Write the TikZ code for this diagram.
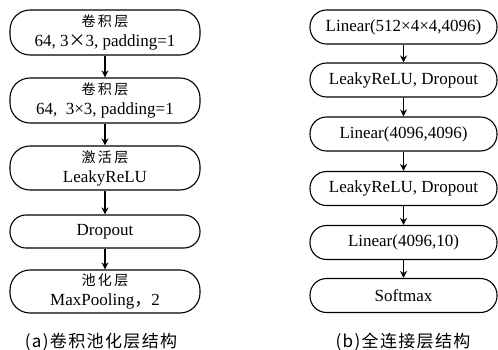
\documentclass[tikz,border=0pt]{standalone}
\usepackage{fontspec}
\setmainfont{Liberation Serif}
\newfontfamily\cjk{Noto Sans CJK SC}
\newfontfamily\cjkcap[LetterSpace=8]{Noto Sans CJK SC}
\usetikzlibrary{arrows.meta}
\begin{document}
\begin{tikzpicture}[x=1pt,y=-1pt,
  box/.style={draw,line width=1.1pt,rounded corners=20pt,inner sep=0pt,align=center,font=\fontsize{17}{20}\selectfont},
  lbox/.style={box,minimum width=190pt},
  rbox/.style={box,minimum width=187pt,minimum height=34pt,rounded corners=16.5pt},
  arr/.style={-{Stealth[length=7pt,width=7pt]},line width=1.1pt},
  captxt/.style={font=\fontsize{17}{20}\selectfont}]
\useasboundingbox (0,0) rectangle (498,350);
\node[lbox,minimum height=45pt] (a1) at (105,32.5) {{\cjk\fontsize{14}{20}\selectfont 卷\,积\,层}\\64, 3{\cjk ×}3, padding=1};
\node[lbox,minimum height=45pt] (a2) at (105,100.5) {{\cjk\fontsize{14}{20}\selectfont 卷\,积\,层}\\64,\ \ 3×3, padding=1};
\node[lbox,minimum height=44pt] (a3) at (105,168) {{\cjk\fontsize{14}{20}\selectfont 激\,活\,层}\\LeakyReLU};
\node[lbox,minimum height=33pt,rounded corners=16pt] (a4) at (105,231.5) {Dropout};
\node[lbox,minimum height=43pt] (a5) at (105,291.5) {{\cjk\fontsize{14}{20}\selectfont 池\,化\,层}\\MaxPooling{\cjk ，}2};
\draw[arr] (a1) -- (a2);
\draw[arr] (a2) -- (a3);
\draw[arr] (a3) -- (a4);
\draw[arr] (a4) -- (a5);
\node[rbox] (b1) at (403.5,27) {Linear(512×4×4,4096)};
\node[rbox] (b2) at (403.5,80) {LeakyReLU, Dropout};
\node[rbox] (b3) at (403.5,134) {Linear(4096,4096)};
\node[rbox] (b4) at (403.5,188.5) {LeakyReLU, Dropout};
\node[rbox] (b5) at (403.5,242.5) {Linear(4096,10)};
\node[rbox] (b6) at (403.5,295.5) {Softmax};
\draw[arr] (b1) -- (b2);
\draw[arr] (b2) -- (b3);
\draw[arr] (b3) -- (b4);
\draw[arr] (b4) -- (b5);
\draw[arr] (b5) -- (b6);
\node[captxt] (ca) at (101,342) {{\cjkcap (a)卷积池化层结构}};
\node[captxt] (cb) at (403,342) {{\cjkcap (b)全连接层结构}};
\end{tikzpicture}
\end{document}
